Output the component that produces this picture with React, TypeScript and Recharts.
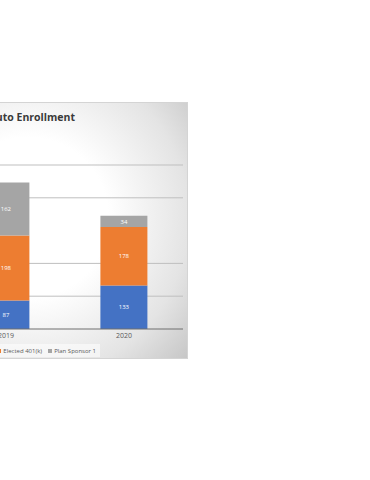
import { BarChart, Bar, XAxis, YAxis, CartesianGrid, LabelList } from "recharts";

// values
const years = ["2019", "2020"];
const elected = [87, 133];
const sponsor = [198, 178];
const autoEnrolled = [162, 34];
const seriesNames = ["Auto Enrolled", "Elected 401(k)", "Plan Sponsor 1"];
const yTicks = [0, 100, 200, 300, 400, 500];
const gridValues = [100, 200, 400, 500];

const colors = ["#4472C4", "#ED7D31", "#A5A5A5"];

const data = years.map((year, i) => ({
  year,
  elected: elected[i],
  sponsor: sponsor[i],
  auto: autoEnrolled[i],
}));

const font = "'Open Sans', 'Noto Sans', sans-serif";

export default function App() {
  return (
    <div
      style={{
        position: "absolute",
        left: -119,
        top: 102,
        width: 307,
        height: 257,
        boxSizing: "border-box",
        border: "1px solid #d4d4d4",
        background:
          "radial-gradient(ellipse 75% 90% at 48% 45%, #ffffff 35%, #e4e4e4 70%, #bdbdbd 100%)",
        fontFamily: font,
      }}
    >
      <div
        style={{
          position: "absolute",
          right: 112,
          top: 7,
          fontSize: 10.5,
          lineHeight: "14px",
          fontWeight: 700,
          color: "#3a3a3a",
          whiteSpace: "nowrap",
        }}
      >
        Auto Enrollment
      </div>

      <div style={{ position: "absolute", left: 65, top: 52 }}>
        <BarChart
          width={241}
          height={194}
          data={data}
          margin={{ top: 10, right: 5, bottom: 0, left: 0 }}
          barCategoryGap="30%"
        >
          <CartesianGrid
            vertical={false}
            horizontalValues={gridValues}
            stroke="#bfbfbf"
          />
          <YAxis hide domain={[0, 500]} ticks={yTicks} />
          <XAxis
            dataKey="year"
            height={20}
            tickLine={false}
            tickSize={4}
            tickMargin={0}
            axisLine={{ stroke: "#6f6f6f" }}
            tick={{ fontSize: 7, fill: "#595959", fontFamily: font }}
          />
          <Bar dataKey="elected" stackId="a" fill={colors[0]} isAnimationActive={false}>
            <LabelList dataKey="elected" position="center" fill="#fff" fontSize={6} />
          </Bar>
          <Bar dataKey="sponsor" stackId="a" fill={colors[1]} isAnimationActive={false}>
            <LabelList dataKey="sponsor" position="center" fill="#fff" fontSize={6} />
          </Bar>
          <Bar dataKey="auto" stackId="a" fill={colors[2]} isAnimationActive={false}>
            <LabelList dataKey="auto" position="center" fill="#fff" fontSize={6} />
          </Bar>
        </BarChart>
      </div>

      <div
        style={{
          position: "absolute",
          right: 87,
          top: 241,
          height: 13,
          display: "flex",
          alignItems: "center",
          gap: 6,
          padding: "0 4px",
          background: "rgba(255,255,255,0.55)",
          fontSize: 6,
          color: "#595959",
          whiteSpace: "nowrap",
        }}
      >
        {seriesNames.map((name, i) => (
          <span key={name} style={{ display: "flex", alignItems: "center", gap: 2 }}>
            <span style={{ width: 4, height: 4, background: colors[i] }} />
            {name}
          </span>
        ))}
      </div>
    </div>
  );
}
